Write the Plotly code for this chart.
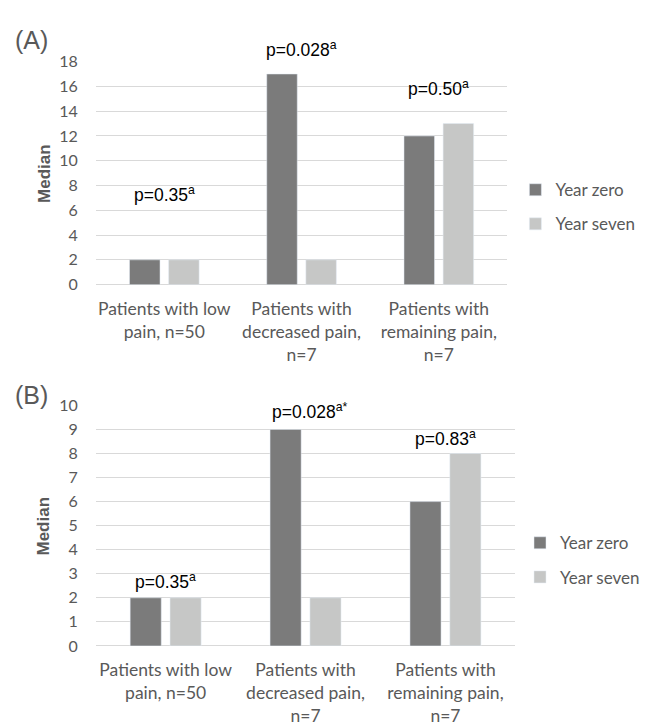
import plotly.graph_objects as go

# ---- data ----
categories = ["Patients with low<br>pain, n=50",
              "Patients with<br>decreased pain,<br>n=7",
              "Patients with<br>remaining pain,<br>n=7"]
series_names = ["Year zero", "Year seven"]
a_year_zero = [2, 17, 12]
a_year_seven = [2, 2, 13]
b_year_zero = [2, 9, 6]
b_year_seven = [2, 2, 8]
a_pvalues = ["p=0.35<sup>a</sup>", "p=0.028<sup>a</sup>", "p=0.50<sup>a</sup>"]
b_pvalues = ["p=0.35<sup>a</sup>", "p=0.028<sup>a*</sup>", "p=0.83<sup>a</sup>"]
a_ticks = list(range(0, 19, 2))
b_ticks = list(range(0, 11, 1))
a_max = 18
b_max = 10

# ---- styling ----
W, H = 645, 727
DARK = "#7b7b7b"
LIGHT = "#c6c7c6"
GRID = "#d9d9d9"
TXT = "#595959"
LAB_FONT = "Lato"
ANN_FONT = "Liberation Sans"


def px_x(p):
    return p / W


def px_y(p):
    return 1 - p / H


fig = go.Figure()

fig.add_trace(go.Bar(x=categories, y=a_year_zero, name=series_names[0], marker_color=DARK,
                     xaxis="x", yaxis="y", legend="legend", legendgroup="a0"))
fig.add_trace(go.Bar(x=categories, y=a_year_seven, name=series_names[1], marker_color=LIGHT,
                     xaxis="x", yaxis="y", legend="legend", legendgroup="a1"))
fig.add_trace(go.Bar(x=categories, y=b_year_zero, name=series_names[0], marker_color=DARK,
                     xaxis="x2", yaxis="y2", legend="legend2", legendgroup="b0"))
fig.add_trace(go.Bar(x=categories, y=b_year_seven, name=series_names[1], marker_color=LIGHT,
                     xaxis="x2", yaxis="y2", legend="legend2", legendgroup="b1"))

xcommon = dict(type="category", showgrid=False, showline=False, zeroline=False,
               tickfont=dict(family=LAB_FONT, size=17.5, color=TXT), ticks="",
               ticklabelstandoff=12, fixedrange=True)
ycommon = dict(showgrid=True, gridcolor=GRID, gridwidth=1, zeroline=True, zerolinecolor=GRID,
               zerolinewidth=1, showline=False,
               tickfont=dict(family=LAB_FONT, size=16, color=TXT), ticks="",
               ticklabelstandoff=17, fixedrange=True)

legend_common = dict(font=dict(family=LAB_FONT, size=17, color=TXT), traceorder="grouped",
                     tracegroupgap=9, xanchor="left", yanchor="middle",
                     bgcolor="rgba(0,0,0,0)", itemclick=False, itemdoubleclick=False)

annotations = []
# p-values, panel A (positions in data units, converted to axis-domain fractions)
a_ann_y = [7.35, 19.0, 15.9]
for cat, txt, yy in zip(categories, a_pvalues, a_ann_y):
    annotations.append(dict(x=cat, y=yy / a_max, xref="x", yref="y domain", text=txt,
                            showarrow=False, yanchor="middle",
                            font=dict(family=ANN_FONT, size=17.5, color="#000000")))
b_ann_y = [2.7, 9.75, 8.65]
b_shift = [0, 4, 0]
for cat, txt, yy, xs in zip(categories, b_pvalues, b_ann_y, b_shift):
    annotations.append(dict(x=cat, y=yy / b_max, xref="x2", yref="y2 domain", text=txt,
                            showarrow=False, xshift=xs, yanchor="middle",
                            font=dict(family=ANN_FONT, size=17.5, color="#000000")))
# panel letters and axis titles
for lbl, yc in (("(A)", 31), ("(B)", 395)):
    annotations.append(dict(x=px_x(32), y=px_y(yc), xref="paper", yref="paper", text=lbl,
                            showarrow=False, xanchor="center", yanchor="middle",
                            font=dict(family=ANN_FONT, size=25, color=TXT)))
for yc in (167.5, 529.5):
    annotations.append(dict(x=px_x(44), y=px_y(yc), xref="paper", yref="paper",
                            text="<b>Median</b>", textangle=-90, showarrow=False,
                            xanchor="center", yanchor="middle",
                            font=dict(family=ANN_FONT, size=17, color=TXT)))

fig.update_layout(
    width=W, height=H,
    margin=dict(l=0, r=0, t=0, b=0),
    paper_bgcolor="white", plot_bgcolor="white",
    barmode="group", bargap=0.43, bargroupgap=0.22,
    xaxis=dict(domain=[px_x(96), px_x(509)], anchor="y", **xcommon),
    yaxis=dict(domain=[px_y(282), px_y(53)], anchor="x", range=[0, a_max],
               tickvals=a_ticks, **ycommon),
    xaxis2=dict(domain=[px_x(96), px_x(517)], anchor="y2", **xcommon),
    yaxis2=dict(domain=[px_y(653), px_y(406)], anchor="x2", range=[0, b_max],
                tickvals=b_ticks, **ycommon),
    legend=dict(x=px_x(517), y=px_y(202.5), **legend_common),
    legend2=dict(x=px_x(522), y=px_y(565), **legend_common),
    annotations=annotations,
    showlegend=True,
)

fig.write_html("out.html", config={"displayModeBar": False},
               post_script="document.body.style.margin='0';document.body.style.overflow='hidden';")
